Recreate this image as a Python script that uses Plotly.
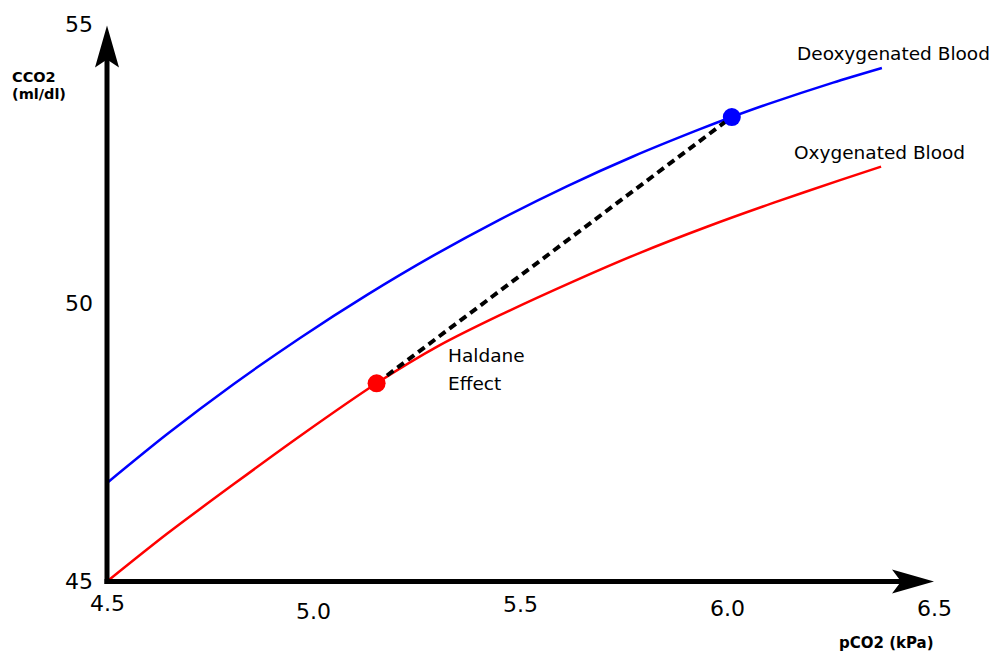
import plotly.graph_objects as go

# ---------------- data ----------------
pco2_deoxy = [4.500, 4.645, 4.805, 4.967, 5.129, 5.288, 5.450, 5.612, 5.772, 5.934, 6.011, 6.096, 6.256, 6.374]
cco2_deoxy = [46.772, 47.647, 48.543, 49.381, 50.155, 50.856, 51.509, 52.108, 52.644, 53.135, 53.354, 53.581, 53.973, 54.236]

pco2_oxy = [4.500, 4.645, 4.805, 4.967, 5.152, 5.305, 5.450, 5.627, 5.789, 5.951, 6.111, 6.273, 6.372]
cco2_oxy = [45.000, 45.858, 46.743, 47.617, 48.565, 49.250, 49.790, 50.394, 50.912, 51.381, 51.809, 52.219, 52.462]

haldane_x = [5.152, 6.011]
haldane_y = [48.565, 53.354]

x_ticks = [4.5, 5.0, 5.5, 6.0, 6.5]
x_tick_labels = ["4.5", "5.0", "5.5", "6.0", "6.5"]
y_ticks = [45, 50, 55]
y_tick_labels = ["45", "50", "55"]

# ---------------- layout geometry ----------------
W, H = 998, 654
X0_PX, X_SCALE = 107, 413.5      # px of x=4.5, px per kPa
Y0_PX, Y_SCALE = 581.5, 55.6     # px of y=45, px per ml/dl
XMIN, YMIN = x_ticks[0], y_ticks[0]
XMAX, YMAX = x_ticks[-1], y_ticks[-1]
x_range = [XMIN - X0_PX / X_SCALE, XMIN + (W - X0_PX) / X_SCALE]
y_range = [YMIN - (H - Y0_PX) / Y_SCALE, YMIN + Y0_PX / Y_SCALE]

FONT = "DejaVu Sans"
x_label_dy = [-21.5, -29.5, -22.5, -26.5, -26.5]
y_label_dy = [0, 0, 1.5]

fig = go.Figure()

fig.add_trace(go.Scatter(x=pco2_deoxy, y=cco2_deoxy, mode="lines",
                         line=dict(color="#0000ff", width=2.5, shape="spline", smoothing=0.8)))
fig.add_trace(go.Scatter(x=pco2_oxy, y=cco2_oxy, mode="lines",
                         line=dict(color="#ff0000", width=2.5, shape="spline", smoothing=0.8)))
fig.add_trace(go.Scatter(x=haldane_x, y=haldane_y, mode="lines",
                         line=dict(color="black", width=4, dash="8px,5px")))
fig.add_trace(go.Scatter(x=haldane_x, y=haldane_y, mode="markers",
                         marker=dict(size=18, color=["#ff0000", "#0000ff"], line=dict(width=0))))

shapes = []
# axes lines
shapes.append(dict(type="line", xref="x", yref="y", x0=XMIN - 2.5 / X_SCALE, y0=YMIN,
                   x1=XMAX - 15 / X_SCALE, y1=YMIN, line=dict(color="black", width=5)))
shapes.append(dict(type="line", xref="x", yref="y", x0=XMIN, y0=YMIN - 2.5 / Y_SCALE,
                   x1=XMIN, y1=YMAX - 15 / Y_SCALE, line=dict(color="black", width=5)))
# arrow heads (pixel sized, anchored at axis ends)
shapes.append(dict(type="path", xref="x", yref="y", xsizemode="pixel", ysizemode="pixel",
                   xanchor=XMAX, yanchor=YMIN, path="M0,0 L-42,12 L-33,0 L-42,-12 Z",
                   fillcolor="black", line=dict(width=0)))
shapes.append(dict(type="path", xref="x", yref="y", xsizemode="pixel", ysizemode="pixel",
                   xanchor=XMIN, yanchor=YMAX, path="M0,0 L-12,-42 L0,-34 L12,-42 Z",
                   fillcolor="black", line=dict(width=0)))

annotations = []
for v, t, dy in zip(x_ticks, x_tick_labels, x_label_dy):
    annotations.append(dict(x=v, y=YMIN, xref="x", yref="y", text=t, showarrow=False,
                            xanchor="center", yanchor="middle", yshift=dy,
                            font=dict(family=FONT, size=22, color="black")))
for v, t, dy in zip(y_ticks, y_tick_labels, y_label_dy):
    annotations.append(dict(x=XMIN, y=v, xref="x", yref="y", text=t, showarrow=False,
                            xanchor="center", yanchor="middle", xshift=-28, yshift=dy,
                            font=dict(family=FONT, size=22, color="black")))

def txt(x, y, s, size=18.5, bold=False, xref="x", yref="y", yanchor="middle"):
    annotations.append(dict(x=x, y=y, xref=xref, yref=yref,
                            text=f"<b>{s}</b>" if bold else s, showarrow=False,
                            xanchor="left", yanchor=yanchor,
                            font=dict(family=FONT, size=size, color="black")))

txt(6.164, 54.50, "Deoxygenated Blood")
txt(6.157, 52.71, "Oxygenated Blood")
txt(5.320, 49.07, "Haldane")
txt(5.320, 48.57, "Effect")
txt(10 / W, 1 - 77 / H, "CCO2", size=14.5, bold=True, xref="paper", yref="paper")
txt(10 / W, 1 - 94 / H, "(ml/dl)", size=14.5, bold=True, xref="paper", yref="paper")
txt(837 / W, 0, "pCO2 (kPa)", size=15, bold=True, xref="paper", yref="paper", yanchor="bottom")

fig.update_layout(
    width=W, height=H, autosize=False,
    margin=dict(l=0, r=0, t=0, b=0, pad=0),
    paper_bgcolor="white", plot_bgcolor="white",
    showlegend=False, hovermode=False,
    xaxis=dict(range=x_range, visible=False, fixedrange=True),
    yaxis=dict(range=y_range, visible=False, fixedrange=True),
    shapes=shapes, annotations=annotations,
)

fig.write_html("out.html", config={"displayModeBar": False},
               post_script="document.body.style.margin='0';document.body.style.overflow='hidden';")
